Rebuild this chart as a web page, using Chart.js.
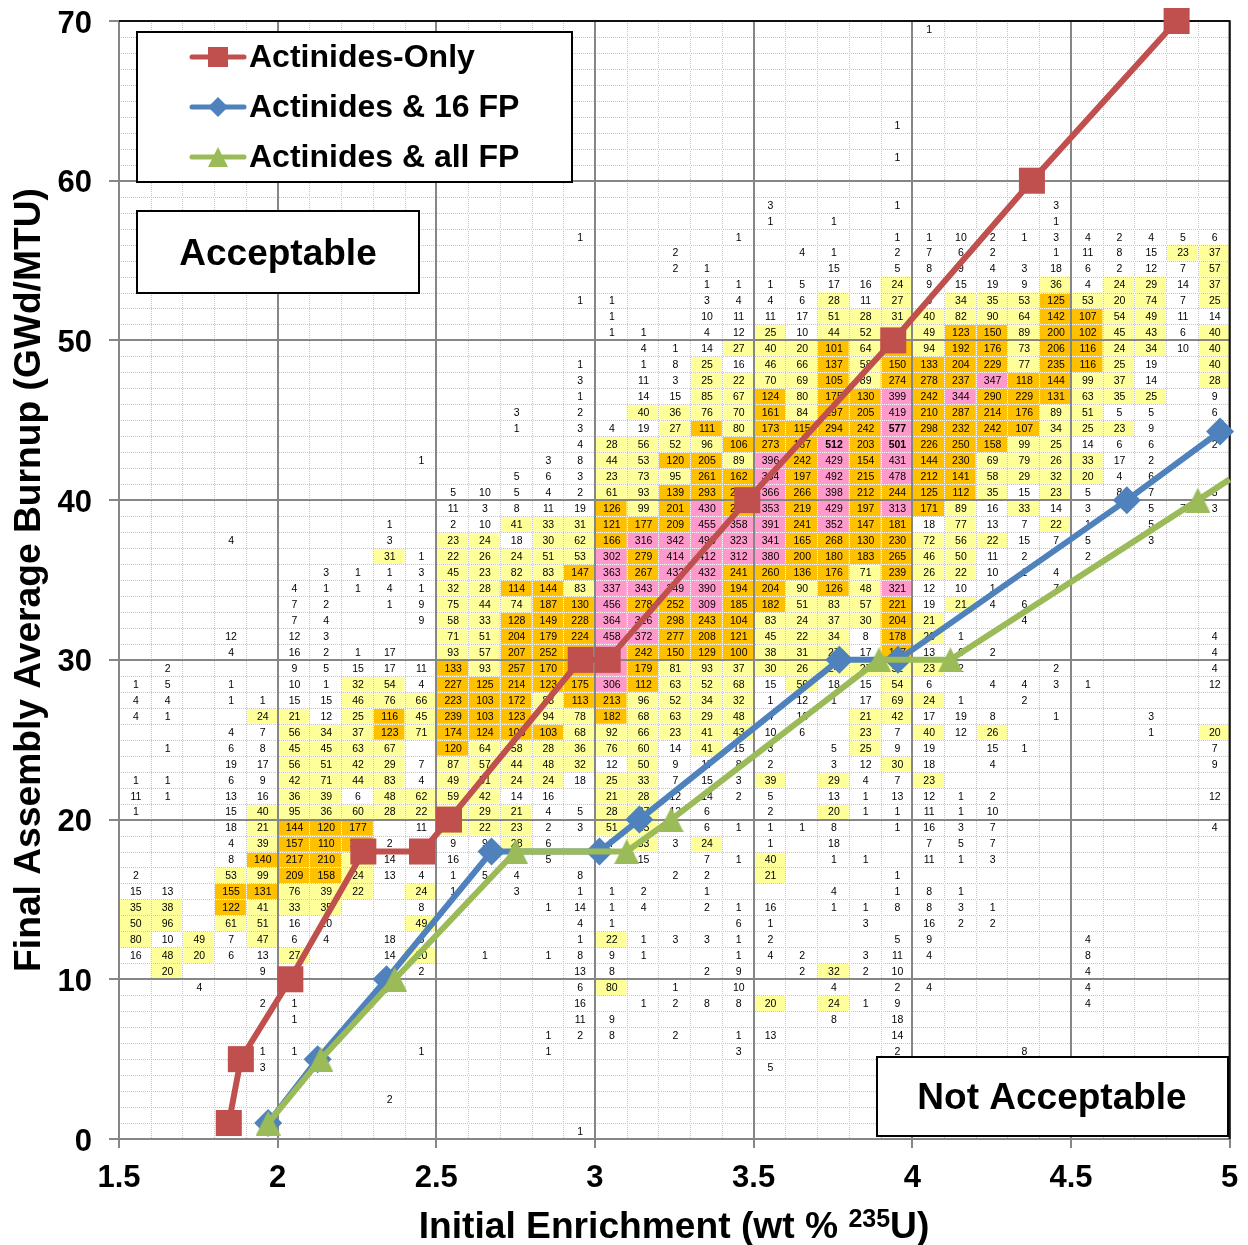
<!DOCTYPE html>
<html lang="en">
<head>
<meta charset="UTF-8">
<title>Final Assembly Average Burnup vs Initial Enrichment</title>
<style>
  body { margin: 0; background: #fff; }
  canvas { display: block; }
</style>
<script src="https://cdn.jsdelivr.net/npm/chart.js@4"></script>
</head>
<body>
<canvas id="chart" width="1248" height="1245"></canvas>
<script>
// loading curves
const onlyEnrichment = [1.846, 1.884, 2.04, 2.27, 2.455, 2.54, 2.955, 3.04, 3.48, 3.94, 4.377, 4.833];
const onlyBurnup = [1, 5, 10, 18, 18, 20, 30, 30, 40, 50, 60, 70];
const fp16Enrichment = [1.97, 2.126, 2.343, 2.674, 3.014, 3.14, 3.77, 3.955, 4.676, 4.97];
const fp16Burnup = [1, 5, 10, 18, 18, 20, 30, 30, 40, 44.3];
const allFpEnrichment = [1.97, 2.136, 2.369, 2.75, 3.1, 3.24, 3.895, 4.12, 4.9, 5];
const allFpBurnup = [1, 5, 10, 18, 18, 20, 30, 30, 40, 41.3];
const allFpMarkerRadius = [14, 14, 14, 14, 14, 14, 14, 14, 14, 0];

const seriesNames = ['Actinides-Only', 'Actinides & 16 FP', 'Actinides & all FP'];

// lower edge of every enrichment bin (wt %), one column of the assembly table
const enrichmentBins = [1.5, 1.6, 1.7, 1.8, 1.9, 2, 2.1, 2.2, 2.3, 2.4, 2.5, 2.6, 2.7, 2.8, 2.9, 3, 3.1, 3.2,
  3.3, 3.4, 3.5, 3.6, 3.7, 3.8, 3.9, 4, 4.1, 4.2, 4.3, 4.4, 4.5, 4.6, 4.7, 4.8, 4.9];
const binWidth = 0.1;
const xTickLabels = ['1.5', '2', '2.5', '3', '3.5', '4', '4.5', '5'];
const yTickLabels = ['0', '10', '20', '30', '40', '50', '60', '70'];

// assembly counts, index = burnup bin (GWd/MTU), flat pairs: column, count
const assemblyCounts = [
  [14,1],
  [],
  [8,2],
  [],
  [4,3, 20,5],
  [4,1, 5,1, 9,1, 13,1, 19,3, 24,2, 28,8],
  [13,1, 14,2, 15,8, 17,2, 19,1, 20,13, 24,14],
  [5,1, 14,11, 15,9, 22,8, 24,18],
  [4,2, 5,1, 14,16, 16,1, 17,2, 18,8, 19,8, 20,20, 22,24, 23,1, 24,9, 30,4],
  [2,4, 14,6, 15,80, 17,1, 19,10, 22,4, 24,2, 25,4, 30,4],
  [1,20, 4,9, 9,2, 14,13, 15,8, 18,2, 19,9, 21,2, 22,32, 23,2, 24,10, 30,4],
  [0,16, 1,48, 2,20, 3,6, 4,13, 5,27, 8,14, 9,20, 11,1, 13,1, 14,8, 15,9, 16,1, 19,1, 20,4, 21,2, 23,3, 24,11, 25,4, 30,8],
  [0,80, 1,10, 2,49, 3,7, 4,47, 5,6, 6,4, 8,18, 9,8, 14,1, 15,22, 16,1, 17,3, 18,3, 19,1, 20,2, 24,5, 25,9, 30,4],
  [0,50, 1,96, 3,61, 4,51, 5,16, 6,10, 9,49, 14,4, 15,1, 19,6, 20,1, 23,3, 25,16, 26,2, 27,2],
  [0,35, 1,38, 3,122, 4,41, 5,33, 6,35, 9,8, 13,1, 14,14, 15,1, 16,4, 18,2, 19,1, 20,16, 22,1, 23,1, 24,8, 25,8, 26,3, 27,1],
  [0,15, 1,13, 3,155, 4,131, 5,76, 6,39, 7,22, 9,24, 10,1, 12,3, 14,1, 15,1, 16,2, 18,1, 22,4, 24,1, 25,8, 26,1],
  [0,2, 3,53, 4,99, 5,209, 6,158, 7,24, 8,13, 9,4, 10,1, 11,5, 12,4, 14,8, 17,2, 18,2, 20,21, 24,1],
  [3,8, 4,140, 5,217, 6,210, 7,60, 8,14, 10,16, 13,5, 16,15, 18,7, 19,1, 20,40, 22,1, 23,1, 25,11, 26,1, 27,3],
  [3,4, 4,39, 5,157, 6,110, 7,120, 8,2, 9,10, 10,9, 11,9, 12,28, 13,6, 15,7, 16,33, 17,3, 18,24, 20,1, 22,18, 25,7, 26,5, 27,7],
  [3,18, 4,21, 5,144, 6,120, 7,177, 9,11, 10,30, 11,22, 12,23, 13,2, 14,3, 15,51, 16,25, 18,6, 19,1, 20,1, 21,1, 22,8, 24,1, 25,16, 26,3, 27,7, 34,4],
  [0,1, 3,15, 4,40, 5,95, 6,36, 7,60, 8,28, 9,22, 10,40, 11,29, 12,21, 13,4, 14,5, 15,28, 16,27, 17,12, 18,6, 20,2, 22,20, 23,1, 24,1, 25,11, 26,1, 27,10],
  [0,11, 1,1, 3,13, 4,16, 5,36, 6,39, 7,6, 8,48, 9,62, 10,59, 11,42, 12,14, 13,16, 15,21, 16,28, 17,12, 18,14, 19,2, 20,5, 22,13, 23,1, 24,13, 25,12, 26,1, 27,2, 34,12],
  [0,1, 1,1, 3,6, 4,9, 5,42, 6,71, 7,44, 8,83, 9,4, 10,49, 11,51, 12,24, 13,24, 14,18, 15,25, 16,33, 17,7, 18,15, 19,3, 20,39, 22,29, 23,4, 24,7, 25,23],
  [3,19, 4,17, 5,56, 6,51, 7,42, 8,29, 9,7, 10,87, 11,57, 12,44, 13,48, 14,32, 15,12, 16,50, 17,9, 18,17, 19,8, 20,2, 22,3, 23,12, 24,30, 25,18, 27,4, 34,9],
  [1,1, 3,6, 4,8, 5,45, 6,45, 7,63, 8,67, 10,120, 11,64, 12,58, 13,28, 14,36, 15,76, 16,60, 17,14, 18,41, 19,15, 20,3, 22,5, 23,25, 24,9, 25,19, 27,15, 28,1, 34,7],
  [3,4, 4,7, 5,56, 6,34, 7,37, 8,123, 9,71, 10,174, 11,124, 12,103, 13,103, 14,68, 15,92, 16,66, 17,23, 18,41, 19,43, 20,10, 21,6, 23,23, 24,7, 25,40, 26,12, 27,26, 32,1, 34,20],
  [0,4, 1,1, 4,24, 5,21, 6,12, 7,25, 8,116, 9,45, 10,239, 11,103, 12,123, 13,94, 14,78, 15,182, 16,68, 17,63, 18,29, 19,48, 20,4, 21,16, 23,21, 24,42, 25,17, 26,19, 27,8, 29,1, 32,3],
  [0,4, 1,4, 3,1, 4,1, 5,15, 6,15, 7,46, 8,76, 9,66, 10,223, 11,103, 12,172, 13,83, 14,113, 15,213, 16,96, 17,52, 18,34, 19,32, 20,1, 21,12, 22,1, 23,17, 24,69, 25,24, 26,1, 28,2],
  [0,1, 1,5, 3,1, 5,10, 6,1, 7,32, 8,54, 9,4, 10,227, 11,125, 12,214, 13,123, 14,175, 15,306, 16,112, 17,63, 18,52, 19,68, 20,15, 21,56, 22,18, 23,15, 24,54, 25,6, 27,4, 28,4, 29,3, 30,1, 34,12],
  [1,2, 5,9, 6,5, 7,15, 8,17, 9,11, 10,133, 11,93, 12,257, 13,170, 14,180, 15,315, 16,179, 17,81, 18,93, 19,37, 20,30, 21,26, 22,24, 23,27, 24,52, 25,23, 26,2, 29,2, 34,4],
  [3,4, 5,16, 6,2, 7,1, 8,17, 10,93, 11,57, 12,207, 13,252, 14,200, 15,320, 16,242, 17,150, 18,129, 19,100, 20,38, 21,31, 22,27, 23,17, 24,107, 25,13, 26,6, 27,2, 34,4],
  [3,12, 5,12, 6,3, 10,71, 11,51, 12,204, 13,179, 14,224, 15,458, 16,372, 17,277, 18,208, 19,121, 20,45, 21,22, 22,34, 23,8, 24,178, 25,20, 26,1, 34,4],
  [5,7, 6,4, 9,9, 10,58, 11,33, 12,128, 13,149, 14,228, 15,364, 16,316, 17,298, 18,243, 19,104, 20,83, 21,24, 22,37, 23,30, 24,204, 25,21, 28,4],
  [5,7, 6,2, 8,1, 9,9, 10,75, 11,44, 12,74, 13,187, 14,130, 15,456, 16,278, 17,252, 18,309, 19,185, 20,182, 21,51, 22,83, 23,57, 24,221, 25,19, 26,21, 27,4, 28,6],
  [5,4, 6,1, 7,1, 8,4, 9,1, 10,32, 11,28, 12,114, 13,144, 14,83, 15,337, 16,343, 17,349, 18,390, 19,194, 20,204, 21,90, 22,126, 23,48, 24,321, 25,12, 26,10, 27,1, 29,7],
  [6,3, 7,1, 8,1, 9,3, 10,45, 11,23, 12,82, 13,83, 14,147, 15,363, 16,267, 17,432, 18,432, 19,241, 20,260, 21,136, 22,176, 23,71, 24,239, 25,26, 26,22, 27,10, 28,1, 29,4],
  [8,31, 9,1, 10,22, 11,26, 12,24, 13,51, 14,53, 15,302, 16,279, 17,414, 18,412, 19,312, 20,380, 21,200, 22,180, 23,183, 24,265, 25,46, 26,50, 27,11, 28,2, 30,2],
  [3,4, 8,3, 10,23, 11,24, 12,18, 13,30, 14,62, 15,166, 16,316, 17,342, 18,490, 19,323, 20,341, 21,165, 22,268, 23,130, 24,230, 25,72, 26,56, 27,22, 28,15, 29,7, 30,5, 32,3],
  [8,1, 10,2, 11,10, 12,41, 13,33, 14,31, 15,121, 16,177, 17,209, 18,455, 19,358, 20,391, 21,241, 22,352, 23,147, 24,181, 25,18, 26,77, 27,13, 28,7, 29,22, 30,1, 32,5],
  [10,11, 11,3, 12,8, 13,11, 14,19, 15,126, 16,99, 17,201, 18,430, 19,250, 20,353, 21,219, 22,429, 23,197, 24,313, 25,171, 26,89, 27,16, 28,33, 29,14, 30,3, 32,5, 33,7, 34,3],
  [10,5, 11,10, 12,5, 13,4, 14,2, 15,61, 16,93, 17,139, 18,293, 19,230, 20,366, 21,266, 22,398, 23,212, 24,244, 25,125, 26,112, 27,35, 28,15, 29,23, 30,5, 31,8, 32,7, 34,5],
  [12,5, 13,6, 14,3, 15,23, 16,73, 17,95, 18,261, 19,162, 20,364, 21,197, 22,492, 23,215, 24,478, 25,212, 26,141, 27,58, 28,29, 29,32, 30,20, 31,4, 32,6],
  [9,1, 13,3, 14,8, 15,44, 16,53, 17,120, 18,205, 19,89, 20,396, 21,242, 22,429, 23,154, 24,431, 25,144, 26,230, 27,69, 28,79, 29,26, 30,33, 31,17, 32,2],
  [14,4, 15,28, 16,56, 17,52, 18,96, 19,106, 20,273, 21,167, 22,512, 23,203, 24,501, 25,226, 26,250, 27,158, 28,99, 29,25, 30,14, 31,6, 32,6, 34,2],
  [12,1, 14,3, 15,4, 16,19, 17,27, 18,111, 19,80, 20,173, 21,115, 22,294, 23,242, 24,577, 25,298, 26,232, 27,242, 28,107, 29,34, 30,25, 31,23, 32,9],
  [12,3, 14,2, 16,40, 17,36, 18,76, 19,70, 20,161, 21,84, 22,197, 23,205, 24,419, 25,210, 26,287, 27,214, 28,176, 29,89, 30,51, 31,5, 32,5, 34,6],
  [14,1, 16,14, 17,15, 18,85, 19,67, 20,124, 21,80, 22,175, 23,130, 24,399, 25,242, 26,344, 27,290, 28,229, 29,131, 30,63, 31,35, 32,25, 34,9],
  [14,3, 16,11, 17,3, 18,25, 19,22, 20,70, 21,69, 22,105, 23,89, 24,274, 25,278, 26,237, 27,347, 28,118, 29,144, 30,99, 31,37, 32,14, 34,28],
  [14,1, 16,1, 17,8, 18,25, 19,16, 20,46, 21,66, 22,137, 23,58, 24,150, 25,133, 26,204, 27,229, 28,77, 29,235, 30,116, 31,25, 32,19, 34,40],
  [16,4, 17,1, 18,14, 19,27, 20,40, 21,20, 22,101, 23,64, 24,100, 25,94, 26,192, 27,176, 28,73, 29,206, 30,116, 31,24, 32,34, 33,10, 34,40],
  [15,1, 16,1, 18,4, 19,12, 20,25, 21,10, 22,44, 23,52, 24,60, 25,49, 26,123, 27,150, 28,89, 29,200, 30,102, 31,45, 32,43, 33,6, 34,40],
  [15,1, 18,10, 19,11, 20,11, 21,17, 22,51, 23,28, 24,31, 25,40, 26,82, 27,90, 28,64, 29,142, 30,107, 31,54, 32,49, 33,11, 34,14],
  [14,1, 15,1, 18,3, 19,4, 20,4, 21,6, 22,28, 23,11, 24,27, 25,6, 26,34, 27,35, 28,53, 29,125, 30,53, 31,20, 32,74, 33,7, 34,25],
  [18,1, 19,1, 20,1, 21,5, 22,17, 23,16, 24,24, 25,9, 26,15, 27,19, 28,9, 29,36, 30,4, 31,24, 32,29, 33,14, 34,37],
  [17,2, 18,1, 22,15, 24,5, 25,8, 26,9, 27,4, 28,3, 29,18, 30,6, 31,2, 32,12, 33,7, 34,57],
  [17,2, 21,4, 22,1, 24,2, 25,7, 26,6, 27,2, 29,1, 30,11, 31,8, 32,15, 33,23, 34,37],
  [14,1, 19,1, 24,1, 25,1, 26,10, 27,2, 28,1, 29,3, 30,4, 31,2, 32,4, 33,5, 34,6],
  [20,1, 22,1, 29,1],
  [20,3, 24,1, 29,3],
  [],
  [],
  [24,1],
  [],
  [24,1],
  [],
  [],
  [],
  [],
  [],
  [25,1]
];

const FONT = '"Liberation Sans", Arial, sans-serif';
const RED = '#C0504D';
const BLUE = '#4F81BD';
const GREEN = '#9BBB59';
const MAJOR = '#868686';

function cellColor(n) {
  if (n >= 300) return '#FF99CC';
  if (n >= 100) return '#FFC000';
  if (n >= 20) return '#FFFF99';
  return null;
}

function isMajorX(v) { return xTickLabels.includes(String(Math.round(v * 10) / 10)); }
function isMajorY(v) { return yTickLabels.includes(String(Math.round(v))); }

function trianglePath(ctx, x, y, w, h) {
  ctx.beginPath();
  ctx.moveTo(x, y - h / 2);
  ctx.lineTo(x + w / 2, y + h / 2);
  ctx.lineTo(x - w / 2, y + h / 2);
  ctx.closePath();
}

// chart.js puts the triangle on its centroid, the original sits centred
function triangleMarker(w, h) {
  const c = document.createElement('canvas');
  c.width = w;
  c.height = h;
  const g = c.getContext('2d');
  g.fillStyle = GREEN;
  trianglePath(g, w / 2, h / 2, w, h);
  g.fill();
  return c;
}

function drawBox(ctx, x, y, w, h) {
  ctx.fillStyle = '#fff';
  ctx.fillRect(x, y, w, h);
  ctx.strokeStyle = '#000';
  ctx.lineWidth = 2;
  ctx.setLineDash([]);
  ctx.strokeRect(x, y, w, h);
}

// table behind the chart: goes in beforeDraw so the major grid lands on top of it
const cellTable = {
  id: 'cellTable',
  beforeDraw(chart) {
    const { ctx, chartArea: area, scales: { x, y } } = chart;
    ctx.save();
    assemblyCounts.forEach((row, r) => {
      for (let i = 0; i < row.length; i += 2) {
        const color = cellColor(row[i + 1]);
        if (!color) continue;
        const x0 = x.getPixelForValue(enrichmentBins[row[i]]);
        const x1 = x.getPixelForValue(enrichmentBins[row[i]] + binWidth);
        const y0 = y.getPixelForValue(r + 1);
        const y1 = y.getPixelForValue(r);
        ctx.fillStyle = color;
        ctx.fillRect(x0, y0, x1 - x0, y1 - y0);
      }
    });

    // dotted table lines
    ctx.lineWidth = 1;
    const lines = [];
    x.ticks.forEach(t => {
      if (!isMajorX(t.value)) {
        const p = Math.round(x.getPixelForValue(t.value)) + 0.5;
        lines.push([p, area.top, p, area.bottom]);
      }
    });
    y.ticks.forEach(t => {
      if (!isMajorY(t.value)) {
        const p = Math.round(y.getPixelForValue(t.value)) + 0.5;
        lines.push([area.left, p, area.right, p]);
      }
    });
    lines.forEach(l => {
      ctx.setLineDash([]);
      ctx.strokeStyle = '#fff';
      ctx.beginPath(); ctx.moveTo(l[0], l[1]); ctx.lineTo(l[2], l[3]); ctx.stroke();
      ctx.setLineDash([1, 1]);
      ctx.strokeStyle = '#c4c4c4';
      ctx.beginPath(); ctx.moveTo(l[0], l[1]); ctx.lineTo(l[2], l[3]); ctx.stroke();
    });
    ctx.setLineDash([]);

    ctx.fillStyle = '#000';
    ctx.textAlign = 'center';
    ctx.textBaseline = 'middle';
    assemblyCounts.forEach((row, r) => {
      for (let i = 0; i < row.length; i += 2) {
        const n = row[i + 1];
        ctx.font = (n >= 500 ? 'bold ' : '') + '10.5px ' + FONT;
        ctx.fillText(String(n),
          x.getPixelForValue(enrichmentBins[row[i]] + binWidth / 2) + 1,
          y.getPixelForValue(r + 0.5) + 1);
      }
    });
    ctx.restore();
  },
  beforeDatasetsDraw(chart) {
    const { ctx, chartArea: area } = chart;
    ctx.save();
    ctx.strokeStyle = '#111';
    ctx.lineWidth = 2;
    ctx.beginPath();
    ctx.moveTo(area.left, area.top);
    ctx.lineTo(area.right, area.top);
    ctx.lineTo(area.right, area.bottom);
    ctx.stroke();
    ctx.restore();
  },
  afterDraw(chart) {
    const { ctx } = chart;
    ctx.save();

    // legend box
    drawBox(ctx, 137, 32, 435, 150);
    const rowY = [57, 107, 157];
    const rowColor = [RED, BLUE, GREEN];
    ctx.textAlign = 'left';
    ctx.textBaseline = 'middle';
    seriesNames.forEach((name, i) => {
      const c = rowColor[i];
      const my = rowY[i];
      ctx.strokeStyle = c;
      ctx.lineWidth = 5;
      ctx.lineCap = 'round';
      ctx.beginPath(); ctx.moveTo(192, my); ctx.lineTo(244, my); ctx.stroke();
      ctx.fillStyle = c;
      if (i === 0) {
        ctx.fillRect(208, my - 10, 20, 20);
      } else if (i === 1) {
        ctx.beginPath();
        ctx.moveTo(218, my - 10); ctx.lineTo(228, my); ctx.lineTo(218, my + 10); ctx.lineTo(208, my);
        ctx.closePath();
        ctx.fill();
      } else {
        trianglePath(ctx, 218, my, 20, 20);
        ctx.fill();
      }
      ctx.fillStyle = '#000';
      ctx.font = 'bold 32px ' + FONT;
      ctx.fillText(name, 249, my + 1);
    });

    // region labels
    drawBox(ctx, 137, 211, 282, 82);
    drawBox(ctx, 877, 1057, 351, 79);
    ctx.fillStyle = '#000';
    ctx.textAlign = 'center';
    ctx.font = 'bold 37px ' + FONT;
    ctx.fillText('Acceptable', 278, 255);
    ctx.fillText('Not Acceptable', 1052, 1099);

    // x axis title, the isotope mass has to be a superscript
    const parts = [['Initial Enrichment (wt % ', 37.2, 0], ['235', 25, -11], ['U)', 37.2, 0]];
    ctx.textAlign = 'left';
    ctx.textBaseline = 'alphabetic';
    let total = 0;
    parts.forEach(p => { ctx.font = 'bold ' + p[1] + 'px ' + FONT; total += ctx.measureText(p[0]).width; });
    let tx = 674 - total / 2;
    parts.forEach(p => {
      ctx.font = 'bold ' + p[1] + 'px ' + FONT;
      ctx.fillText(p[0], tx, 1238 + p[2]);
      tx += ctx.measureText(p[0]).width;
    });
    ctx.restore();
  }
};

function toPoints(xs, ys) { return xs.map((v, i) => ({ x: v, y: ys[i] })); }

new Chart(document.getElementById('chart'), {
  type: 'scatter',
  plugins: [cellTable],
  data: {
    datasets: [
      {
        label: seriesNames[0],
        data: toPoints(onlyEnrichment, onlyBurnup),
        showLine: true, clip: false, order: 3,
        borderColor: RED, backgroundColor: RED, borderWidth: 6,
        pointStyle: 'rect', pointRadius: 18.4, pointBorderWidth: 0
      },
      {
        label: seriesNames[1],
        data: toPoints(fp16Enrichment, fp16Burnup),
        showLine: true, clip: false, order: 2,
        borderColor: BLUE, backgroundColor: BLUE, borderWidth: 6,
        pointStyle: 'rectRot', pointRadius: 14, pointBorderWidth: 0
      },
      {
        label: seriesNames[2],
        data: toPoints(allFpEnrichment, allFpBurnup),
        showLine: true, clip: false, order: 1,
        borderColor: GREEN, backgroundColor: GREEN, borderWidth: 6,
        pointStyle: triangleMarker(25, 25), pointRadius: allFpMarkerRadius, pointBorderWidth: 0
      }
    ]
  },
  options: {
    responsive: false,
    animation: false,
    events: [],
    layout: { padding: { top: 21, right: 17, left: 0, bottom: 0 } },
    plugins: { legend: { display: false }, tooltip: { enabled: false } },
    scales: {
      x: {
        type: 'linear',
        min: 1.5,
        max: 5,
        afterFit(s) { s.height = 106; s.paddingLeft = 0; s.paddingRight = 0; },
        border: { color: MAJOR, width: 2 },
        grid: {
          color: c => isMajorX(c.tick.value) ? MAJOR : 'transparent',
          lineWidth: c => isMajorX(c.tick.value) ? 2 : 0,
          tickLength: 9
        },
        ticks: {
          stepSize: binWidth,
          autoSkip: false,
          maxRotation: 0,
          padding: 12,
          color: '#000',
          font: { family: FONT, size: 31, weight: 'bold' },
          callback: v => isMajorX(v) ? String(Math.round(v * 10) / 10) : ''
        }
      },
      y: {
        type: 'linear',
        min: 0,
        max: 70,
        afterFit(s) { s.width = 119; s.paddingTop = 0; s.paddingBottom = 0; },
        border: { color: MAJOR, width: 2 },
        title: {
          display: true,
          text: 'Final Assembly Average Burnup (GWd/MTU)',
          color: '#000',
          font: { family: FONT, size: 37.2, weight: 'bold' },
          padding: { top: 7, bottom: 0 }
        },
        grid: {
          color: c => isMajorY(c.tick.value) ? MAJOR : 'transparent',
          lineWidth: c => isMajorY(c.tick.value) ? 2 : 0,
          tickLength: 10
        },
        ticks: {
          stepSize: 1,
          autoSkip: false,
          padding: 17,
          labelOffset: 3,
          color: '#000',
          font: { family: FONT, size: 31, weight: 'bold' },
          callback: v => isMajorY(v) ? String(v) : ''
        }
      }
    }
  }
});
</script>
</body>
</html>
